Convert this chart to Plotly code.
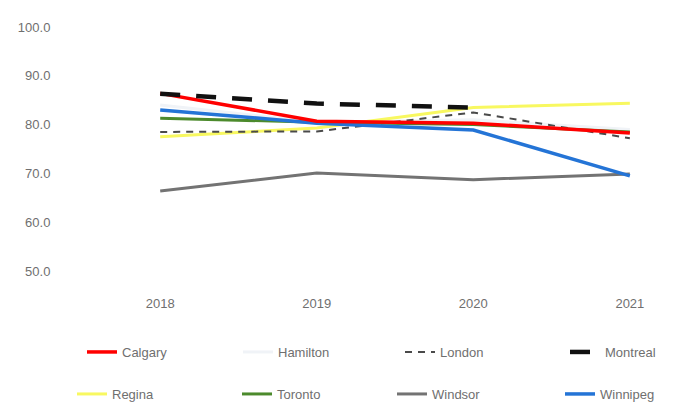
import plotly.graph_objects as go

years = ["2018", "2019", "2020", "2021"]
y_ticks = [50, 60, 70, 80, 90, 100]

calgary = [86.4, 80.7, 80.3, 78.3]
hamilton = [84.0, 80.5, 81.0, 79.0]
london = [78.5, 78.6, 82.5, 77.2]
montreal = [86.3, 84.3, 83.5, None]
regina = [77.5, 79.3, 83.5, 84.4]
toronto = [81.3, 80.5, 80.0, 78.5]
windsor = [66.4, 70.1, 68.7, 69.9]
winnipeg = [83.0, 80.3, 78.9, 69.5]

series = [
    ("Calgary", calgary, dict(color="#FF0000", width=3.5)),
    ("Hamilton", hamilton, dict(color="#F0F3F7", width=3)),
    ("London", london, dict(color="#4a4a4a", width=2, dash="7px,6px")),
    ("Montreal", montreal, dict(color="#111111", width=4.5, dash="20px,16px")),
    ("Regina", regina, dict(color="#F8F860", width=3)),
    ("Toronto", toronto, dict(color="#4C8A2C", width=3)),
    ("Windsor", windsor, dict(color="#737373", width=3)),
    ("Winnipeg", winnipeg, dict(color="#2474D6", width=3.5)),
]

# page offset of the figure inside the browser page (default body margin)
OFF = 8
# legend text start (px) and row centre (px) for each entry, in page pixels
legend_text_x = [122, 278, 440, 605, 112, 277, 432, 600]
legend_row_y = [352, 352, 352, 352, 394, 394, 394, 394]

W, H = 683, 409
ML, MT = 60 - OFF, 27 - OFF
MR = W - (669 - OFF)
MB = H - (271 - OFF)
PW, PH = W - ML - MR, H - MT - MB
names = [s[0] for s in series]
order = ["Hamilton", "Regina", "London", "Windsor", "Toronto", "Winnipeg", "Calgary", "Montreal"]

fig = go.Figure()
for name in order:
    i = names.index(name)
    n, vals, line = series[i]
    leg = "legend" if i == 0 else f"legend{i + 1}"
    fig.add_trace(go.Scatter(
        x=years, y=vals, name=n, mode="lines", line=line,
        legend=leg, connectgaps=False, showlegend=True,
    ))

legend_layout = {}
for i in range(len(series)):
    key = "legend" if i == 0 else f"legend{i + 1}"
    legend_layout[key] = dict(
        xref="paper", yref="paper",
        x=(legend_text_x[i] - OFF - 40 - ML) / PW,
        y=(H - MB - (legend_row_y[i] - OFF)) / PH,
        xanchor="left", yanchor="middle", itemwidth=30,
        bgcolor="rgba(0,0,0,0)", visible=True,
        font=dict(family="Liberation Sans, Arial, sans-serif", size=13, color="#6f6f6f"),
    )

fig.update_layout(
    width=W, height=H, showlegend=True,
    margin=dict(l=ML, r=MR, t=MT, b=MB, autoexpand=False),
    paper_bgcolor="white", plot_bgcolor="white",
    font=dict(family="Liberation Sans, Arial, sans-serif", size=12, color="#7a7a7a"),
    xaxis=dict(
        type="category", range=[-0.64, 3.25], showgrid=False, zeroline=False,
        showline=False, ticks="outside", ticklen=20, tickcolor="rgba(0,0,0,0)",
        tickfont=dict(size=13, color="#6f6f6f"), automargin=False, tickangle=0,
    ),
    yaxis=dict(
        range=[50, 100], tickvals=y_ticks, tickformat=".1f", showgrid=False,
        zeroline=False, showline=False, tickfont=dict(size=13, color="#6f6f6f"),
        ticks="outside", ticklen=6, tickcolor="rgba(0,0,0,0)",
        automargin=False,
    ),
    **legend_layout,
)

fig.write_html("out.html")
